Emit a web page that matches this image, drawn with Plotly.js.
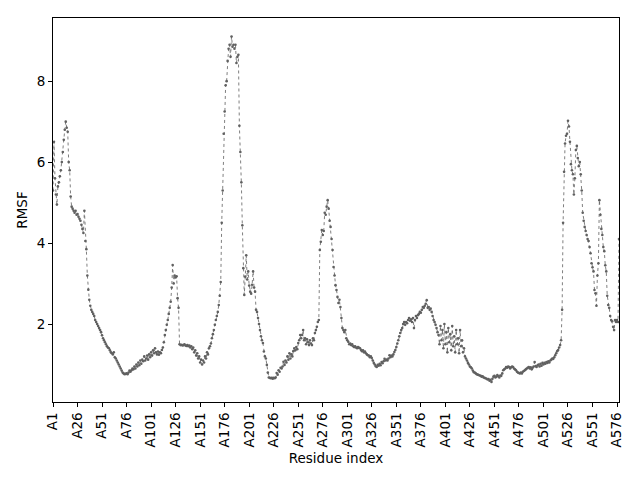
<!DOCTYPE html>
<html>
<head>
<meta charset="utf-8">
<script src="https://cdn.plot.ly/plotly-3.0.1.min.js"></script>
<style>
  html, body { margin: 0; padding: 0; background: #fff; }
  #plot { width: 640px; height: 480px; }
</style>
</head>
<body>
<div id="plot"></div>
<script>
// RMSF per residue (578 residues, A1..A578)
const rmsf = [
  5.3, 6.5, 5.6, 5.2, 4.95, 5.4, 5.5, 5.65, 5.8, 6.0,
  6.25, 6.55, 6.8, 7.0, 6.85, 6.75, 6.0, 5.8, 5.15, 4.9,
  4.85, 4.8, 4.75, 4.8, 4.7, 4.72, 4.65, 4.6, 4.55, 4.45,
  4.35, 4.25, 4.8, 4.05, 3.85, 3.2, 2.85, 2.6, 2.45, 2.35,
  2.3, 2.25, 2.2, 2.1, 2.05, 2.0, 1.95, 1.9, 1.85, 1.8,
  1.72, 1.65, 1.6, 1.55, 1.5, 1.45, 1.42, 1.4, 1.35, 1.3,
  1.28, 1.25, 1.3, 1.18, 1.15, 1.1, 1.05, 1.0, 0.95, 0.9,
  0.85, 0.8, 0.78, 0.76, 0.77, 0.78, 0.76, 0.8, 0.85, 0.82,
  0.86, 0.9, 0.88, 0.95, 0.9, 1.0, 0.95, 1.05, 0.98, 1.1,
  1.02, 1.12, 1.08, 1.2, 1.1, 1.15, 1.22, 1.12, 1.25, 1.18,
  1.3, 1.22, 1.35, 1.28, 1.4, 1.3, 1.25, 1.32, 1.24, 1.3,
  1.28, 1.36, 1.42, 1.55, 1.73, 1.85, 1.98, 2.1, 2.25, 2.4,
  2.55, 2.9, 3.46, 3.0, 3.2, 3.15, 3.18, 2.64, 2.4, 1.5,
  1.48, 1.49, 1.47, 1.48, 1.5, 1.47, 1.46, 1.48, 1.45, 1.47,
  1.42, 1.45, 1.38, 1.42, 1.3, 1.35, 1.22, 1.28, 1.15, 1.2,
  1.05, 1.12, 1.0, 1.1, 1.05, 1.2, 1.15, 1.3, 1.25, 1.4,
  1.45, 1.52, 1.65, 1.75, 1.85, 1.98, 2.1, 2.2, 2.3, 2.47,
  2.7, 3.04, 4.5, 5.3, 6.7, 7.25, 7.9, 8.0, 8.5, 8.8,
  8.9, 8.6, 9.1, 8.85, 8.9, 8.8, 8.9, 8.45, 8.6, 8.65,
  6.9, 6.25, 5.5, 4.44, 3.38, 2.72, 3.17, 3.7, 3.1, 3.3,
  2.95, 2.8, 2.75, 2.97, 3.3, 2.9, 2.8, 2.35, 2.3, 2.15,
  2.0, 1.85, 1.7, 1.6, 1.53, 1.32, 1.2, 1.15, 0.99, 0.8,
  0.68, 0.67, 0.66, 0.67, 0.65, 0.67, 0.66, 0.68, 0.79, 0.75,
  0.86, 0.82, 0.92, 0.9, 0.95, 1.07, 0.99, 1.1, 1.05, 1.2,
  1.12, 1.28, 1.15, 1.25, 1.2, 1.33, 1.4, 1.35, 1.43, 1.38,
  1.53, 1.6, 1.73, 1.65, 1.73, 1.85, 1.6, 1.65, 1.5, 1.62,
  1.55, 1.48, 1.6, 1.52, 1.48, 1.65, 1.6, 1.78, 1.85, 1.93,
  2.05, 2.1, 3.83, 4.03, 4.32, 4.2, 4.3, 4.75, 4.7, 4.9,
  5.06, 4.85, 4.55, 4.4, 4.1, 3.83, 3.41, 3.2, 2.96, 2.84,
  2.67, 2.52, 2.6, 2.42, 2.15, 1.9, 1.85, 1.8, 1.85, 1.65,
  1.6, 1.56, 1.5, 1.52, 1.48, 1.5, 1.45, 1.43, 1.45, 1.42,
  1.4, 1.43, 1.41, 1.4, 1.36, 1.33, 1.35, 1.3, 1.32, 1.28,
  1.25, 1.23, 1.22, 1.18, 1.2, 1.16, 1.1, 1.04, 1.0, 0.96,
  0.94, 0.99, 0.97, 1.02, 0.98, 1.06, 1.03, 1.08, 1.14, 1.1,
  1.12, 1.1, 1.15, 1.23, 1.18, 1.22, 1.2, 1.25, 1.31, 1.36,
  1.43, 1.52, 1.6, 1.7, 1.78, 1.85, 1.9, 2.0, 2.05, 1.98,
  2.05, 2.02, 2.1, 2.15, 2.08, 2.12, 2.05, 2.15, 1.9, 2.1,
  2.2, 2.15, 2.22, 2.25, 2.3, 2.28, 2.35, 2.42, 2.4, 2.45,
  2.5, 2.59, 2.4, 2.42, 2.35, 2.38, 2.3, 2.2, 2.1, 2.05,
  1.98, 1.9, 1.8, 1.73, 1.5, 1.95, 1.6, 1.85, 1.4, 2.0,
  1.5, 1.8, 1.3, 1.9, 1.55, 1.75, 1.35, 1.95, 1.45, 1.7,
  1.3, 1.85, 1.5, 1.65, 1.28, 1.85, 1.45, 1.6, 1.3, 1.4,
  1.2, 1.15, 1.1, 1.04, 1.0, 0.95, 0.93, 0.9, 0.85, 0.81,
  0.8, 0.78, 0.76, 0.75, 0.74, 0.73, 0.72, 0.7, 0.71, 0.68,
  0.67, 0.66, 0.65, 0.63, 0.64, 0.6, 0.62, 0.57, 0.65, 0.7,
  0.72, 0.68, 0.7, 0.74, 0.71, 0.68, 0.73, 0.72, 0.78, 0.86,
  0.88, 0.9, 0.94, 0.92, 0.95, 0.94, 0.9, 0.93, 0.95, 0.94,
  0.9, 0.88, 0.86, 0.82, 0.8, 0.79, 0.78, 0.8, 0.78, 0.82,
  0.84, 0.86, 0.88, 0.9, 0.92, 0.94, 0.9, 0.93, 0.88, 0.92,
  0.95, 1.06, 0.96, 0.94, 0.98, 1.0, 0.95, 1.02, 0.97, 1.04,
  1.0, 1.04, 1.02, 1.06, 1.04, 1.08, 1.05, 1.1, 1.12, 1.15,
  1.14, 1.18, 1.23, 1.28, 1.33, 1.36, 1.42, 1.48, 1.6, 2.35,
  4.5, 5.76, 6.46, 6.65, 6.7, 7.02, 6.88, 6.5, 5.95, 5.8,
  5.7, 5.2, 5.6, 6.3, 6.4, 6.1, 5.9, 6.0, 5.7, 5.3,
  4.75, 4.55, 4.4, 4.3, 4.2, 4.1, 4.05, 3.9, 3.75, 3.5,
  3.4, 3.3, 2.84, 2.76, 2.45, 3.2, 3.5, 5.06, 4.7, 4.35,
  4.2, 3.9, 3.8, 3.45, 3.3, 2.7, 2.47, 2.4, 2.2, 2.1,
  2.07, 1.93, 1.85, 2.1, 2.05, 2.1, 2.05, 4.1
];

// residue names A1, A2, ... one per value
const residues = rmsf.map((_, i) => "A" + (i + 1));

const xTickLabels = ["A1", "A26", "A51", "A76", "A101", "A126", "A151", "A176",
  "A201", "A226", "A251", "A276", "A301", "A326", "A351", "A376", "A401",
  "A426", "A451", "A476", "A501", "A526", "A551", "A576"];
const yTicks = [2, 4, 6, 8];

const FONT = "DejaVu Sans, sans-serif";
const GREY = "#606060";

const trace = {
  x: residues,
  y: rmsf,
  type: "scatter",
  mode: "lines+markers",
  line: { color: GREY, width: 0.8, dash: "dot" },
  marker: { color: GREY, size: 2.6 },
  hoverinfo: "skip",
};

const layout = {
  width: 640,
  height: 480,
  margin: { l: 52.5, r: 20.7, t: 18, b: 78 },
  paper_bgcolor: "#fff",
  plot_bgcolor: "#fff",
  font: { family: FONT, size: 13.5, color: "#000" },
  showlegend: false,
  xaxis: {
    type: "category",
    range: [0, rmsf.length - 1],
    tickmode: "array",
    tickvals: xTickLabels,
    ticktext: xTickLabels,
    tickangle: -90,
    ticks: "outside",
    ticklen: 4,
    tickwidth: 1,
    tickcolor: "#000",
    showline: true,
    mirror: true,
    linecolor: "#000",
    linewidth: 1,
    showgrid: false,
    zeroline: false,
    automargin: false,
    title: { text: "Residue index", font: { family: FONT, size: 13.5 }, standoff: 7 },
  },
  yaxis: {
    range: [0.074, 9.56],
    tickmode: "array",
    tickvals: yTicks,
    ticks: "outside",
    ticklen: 4,
    tickwidth: 1,
    tickcolor: "#000",
    showline: true,
    mirror: true,
    linecolor: "#000",
    linewidth: 1,
    showgrid: false,
    zeroline: false,
    automargin: false,
    title: { text: "RMSF", font: { family: FONT, size: 13.5 }, standoff: 5 },
  },
};

Plotly.newPlot("plot", [trace], layout, { displayModeBar: false, staticPlot: true });
</script>
</body>
</html>
